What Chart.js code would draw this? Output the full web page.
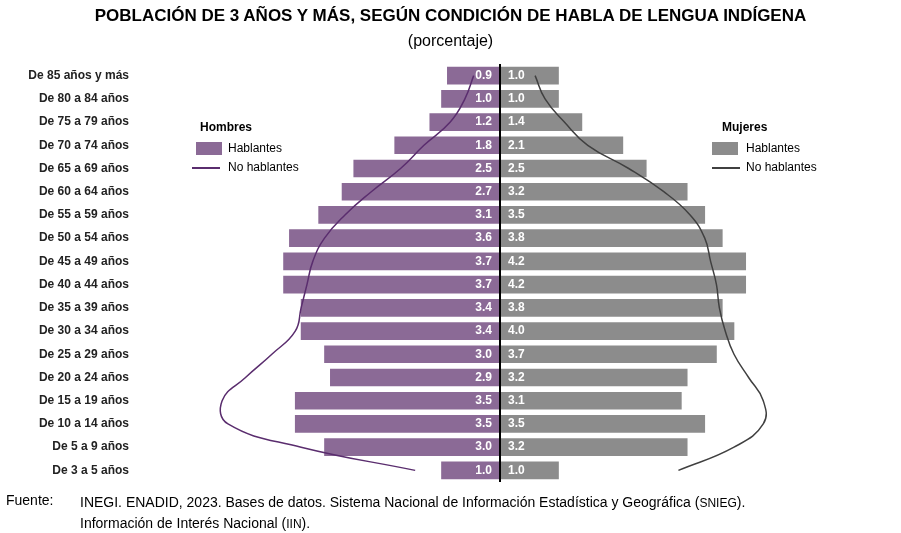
<!DOCTYPE html>
<html><head><meta charset="utf-8">
<script src="https://cdn.jsdelivr.net/npm/chart.js@4"></script>
<style>
body{margin:0;background:#fff;font-family:"Liberation Sans",Arial,sans-serif;}
#wrap{position:relative;width:901px;height:533px;}
canvas{position:absolute;left:0;top:0;}
.t{position:absolute;white-space:nowrap;color:#000;}
.sw{position:absolute;width:26px;height:13px;}
.ln{position:absolute;height:2px;width:28px;}
</style></head><body>
<div id="wrap">
<canvas id="c" width="901" height="533"></canvas>
<div class="t" style="left:0;width:901px;text-align:center;top:6px;font-weight:bold;font-size:17px;">POBLACIÓN DE 3 AÑOS Y MÁS, SEGÚN CONDICIÓN DE HABLA DE LENGUA INDÍGENA</div>
<div class="t" style="left:0;width:901px;text-align:center;top:32px;font-size:16px;">(porcentaje)</div>
<div class="t" style="left:200px;top:120px;font-weight:bold;font-size:12px;">Hombres</div>
<div class="sw" style="left:196px;top:142px;background:#8b6a96"></div>
<div class="t" style="left:228px;top:141px;font-size:12px;">Hablantes</div>
<div class="ln" style="left:192px;top:167px;background:#5a2d6e"></div>
<div class="t" style="left:228px;top:160px;font-size:12px;">No hablantes</div>
<div class="t" style="left:722px;top:120px;font-weight:bold;font-size:12px;">Mujeres</div>
<div class="sw" style="left:712px;top:142px;background:#8c8c8c"></div>
<div class="t" style="left:746px;top:141px;font-size:12px;">Hablantes</div>
<div class="ln" style="left:712px;top:167px;background:#404040"></div>
<div class="t" style="left:746px;top:160px;font-size:12px;">No hablantes</div>
<div class="t" style="left:6px;top:492px;font-size:14px;">Fuente:</div>
<div class="t" style="left:80px;top:492px;font-size:14px;line-height:20px;">INEGI. ENADID, 2023. Bases de datos. Sistema Nacional de Información Estadística y Geográfica (<span style="font-size:12px">SNIEG</span>).<br>Información de Interés Nacional (<span style="font-size:12px">IIN</span>).</div>
</div>
<script>
const ageGroups = ['De 85 años y más','De 80 a 84 años','De 75 a 79 años','De 70 a 74 años','De 65 a 69 años','De 60 a 64 años','De 55 a 59 años','De 50 a 54 años','De 45 a 49 años','De 40 a 44 años','De 35 a 39 años','De 30 a 34 años','De 25 a 29 años','De 20 a 24 años','De 15 a 19 años','De 10 a 14 años','De 5 a 9 años','De 3 a 5 años'];
const menSpeakers = [0.9,1.0,1.2,1.8,2.5,2.7,3.1,3.6,3.7,3.7,3.4,3.4,3.0,2.9,3.5,3.5,3.0,1.0];
const womenSpeakers = [1.0,1.0,1.4,2.1,2.5,3.2,3.5,3.8,4.2,4.2,3.8,4.0,3.7,3.2,3.1,3.5,3.2,1.0];
const menNonSpeakers = [0.45,0.6,0.85,1.3,1.7,2.2,2.65,3.0,3.2,3.3,3.4,3.5,3.9,4.35,4.75,4.65,3.4,1.45];
const womenNonSpeakers = [0.6,0.77,1.1,1.5,2.2,2.8,3.25,3.5,3.6,3.7,3.75,3.85,4.0,4.25,4.5,4.5,4.0,3.05];

const valueLabels = {
  id: 'valueLabels',
  afterDatasetsDraw(chart) {
    const ctx = chart.ctx;
    ctx.save();
    ctx.font = 'bold 12px "Liberation Sans", Arial';
    ctx.fillStyle = '#fff';
    ctx.textBaseline = 'middle';
    const x0 = chart.scales.x.getPixelForValue(0);
    chart.getDatasetMeta(0).data.forEach((b, i) => {
      ctx.textAlign = 'right';
      ctx.fillText(menSpeakers[i].toFixed(1), x0 - 8, b.y);
    });
    chart.getDatasetMeta(1).data.forEach((b, i) => {
      ctx.textAlign = 'left';
      ctx.fillText(womenSpeakers[i].toFixed(1), x0 + 8, b.y);
    });
    ctx.strokeStyle = '#000';
    ctx.lineWidth = 2;
    ctx.beginPath();
    ctx.moveTo(x0, chart.chartArea.top);
    ctx.lineTo(x0, chart.chartArea.bottom);
    ctx.stroke();
    ctx.restore();
  }
};

new Chart(document.getElementById('c'), {
  data: {
    labels: ageGroups,
    datasets: [
      { type: 'bar', data: menSpeakers.map(v => -v), backgroundColor: '#8b6a96', barThickness: 17, stack: 's', order: 2 },
      { type: 'bar', data: womenSpeakers, backgroundColor: '#8c8c8c', barThickness: 17, stack: 's', order: 2 },
      { type: 'line', data: menNonSpeakers.map(v => -v), borderColor: '#5a2d6e', borderWidth: 1.5, pointRadius: 0, tension: 0.45, indexAxis: 'y', order: 1 },
      { type: 'line', data: womenNonSpeakers, borderColor: '#404040', borderWidth: 1.5, pointRadius: 0, tension: 0.45, indexAxis: 'y', order: 1 }
    ]
  },
  options: {
    indexAxis: 'y',
    responsive: false,
    animation: false,
    layout: { padding: { top: 64, bottom: 51, right: 50, left: 0 } },
    plugins: { legend: { display: false }, tooltip: { enabled: false } },
    scales: {
      x: { min: -6, max: 6, stacked: true, display: false },
      y: {
        stacked: true,
        grid: { display: false },
        border: { display: false },
        ticks: { color: '#222', font: { family: '"Liberation Sans", Arial', size: 12, weight: 'bold' }, padding: 12 },
        afterFit(scale) { scale.width = 149; }
      }
    }
  },
  plugins: [valueLabels]
});
</script>
</body></html>
